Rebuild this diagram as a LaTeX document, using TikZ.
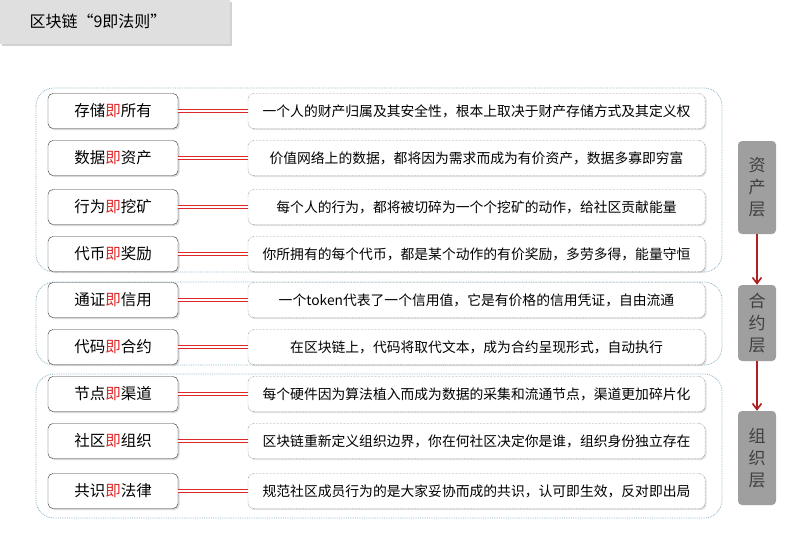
\documentclass[tikz,border=0pt]{standalone}
\usepackage{fontspec}
\newfontfamily\cjk{Noto Sans CJK SC}
\usetikzlibrary{shadows,arrows.meta}
\definecolor{jr}{RGB}{220,40,40}
\tikzset{
 lbox/.style={draw=black!80,rounded corners=5pt,minimum width=130pt,minimum height=35pt,fill=white,font=\cjk\fontsize{15.5}{15.5}\selectfont,drop shadow={shadow xshift=1.5pt,shadow yshift=-1.5pt,opacity=.3}},
 rbox/.style={draw=black!70,densely dotted,rounded corners=6pt,minimum width=457pt,minimum height=35pt,fill=white,font=\cjk\fontsize{13.8}{13.8}\selectfont,drop shadow={shadow xshift=1.5pt,shadow yshift=-1.5pt,opacity=.25}},
 grp/.style={draw=cyan!40!gray!80,densely dotted,rounded corners=18pt,thick},
 layer/.style={fill=gray!75,rounded corners=4pt,minimum width=38pt,font=\cjk\fontsize{17}{22}\selectfont,align=center,text=black!75},
 conn/.style={draw=jr,double=white,double distance=1.2pt,line width=1.4pt},
 arr/.style={draw=jr!80!black,line width=1.6pt,-{Straight Barb[length=6pt,width=9pt]}}
}
\newcommand{\J}[2]{#1\textcolor{jr}{即}#2}
\begin{document}
\begin{tikzpicture}[x=1pt,y=-1pt]
\useasboundingbox[fill=white] (0,0) rectangle (808,535);
\node[fill=gray!25,minimum width=230pt,minimum height=44pt,anchor=north west,drop shadow={opacity=.35}] (tb) at (0,0) {};
\node[anchor=west,font=\cjk\fontsize{16}{16}\selectfont] (tt) at (26,21) {区块链“9即法则”};
\draw[grp] (36,88) rectangle (722,272);
\draw[grp] (36,282) rectangle (722,365);
\draw[grp] (36,374) rectangle (722,518);
\foreach \i/\y/\a/\b/\t in {
1/111/存储/所有/一个人的财产归属及其安全性，根本上取决于财产存储方式及其定义权,
2/158/数据/资产/价值网络上的数据，都将因为需求而成为有价资产，数据多寡即穷富,
3/207/行为/挖矿/每个人的行为，都将被切碎为一个个挖矿的动作，给社区贡献能量,
4/254/代币/奖励/你所拥有的每个代币，都是某个动作的有价奖励，多劳多得，能量守恒,
5/300/通证/信用/一个token代表了一个信用值，它是有价格的信用凭证，自由流通,
6/347/代码/合约/在区块链上，代码将取代文本，成为合约呈现形式，自动执行,
7/394/节点/渠道/每个硬件因为算法植入而成为数据的采集和流通节点，渠道更加碎片化,
8/441/社区/组织/区块链重新定义组织边界，你在何社区决定你是谁，组织身份独立存在,
9/491/共识/法律/规范社区成员行为的是大家妥协而成的共识，认可即生效，反对即出局}{
 \node[lbox] (l\i) at (113,\y) {\J{\a}{\b}};
 \node[rbox] (r\i) at (476.5,\y) {\t};
 \draw[conn] (l\i.east) -- (r\i.west);
}
\node[layer,minimum height=93pt] (L1) at (757,187.5) {资\\产\\层};
\node[layer,minimum height=76pt] (L2) at (757,323) {合\\约\\层};
\node[layer,minimum height=94pt] (L3) at (757,458) {组\\织\\层};
\draw[arr] (L1) -- (L2);
\draw[arr] (L2) -- (L3);
\end{tikzpicture}
\end{document}
